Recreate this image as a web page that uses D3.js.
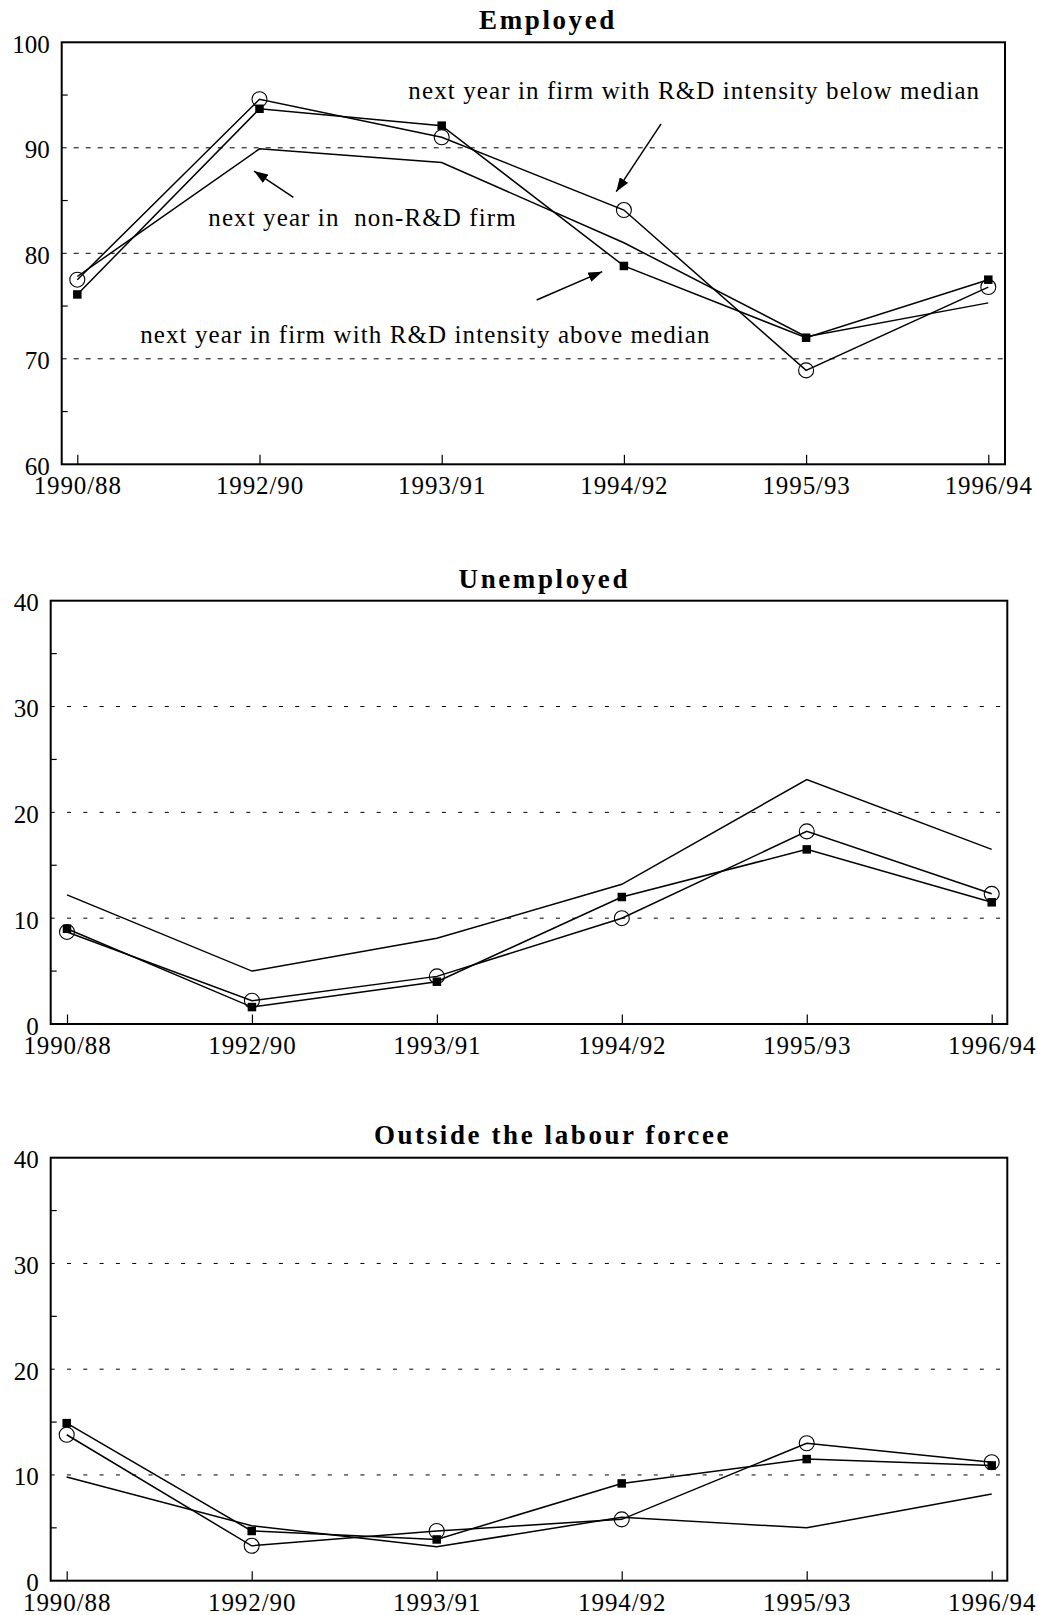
<!DOCTYPE html>
<html>
<head>
<meta charset="utf-8">
<script src="https://cdn.jsdelivr.net/npm/d3@7"></script>
<style>
  html, body { margin: 0; padding: 0; background: #fff; }
  svg { display: block; }
  text { font-family: "Liberation Serif", "Times New Roman", serif; fill: #000; }
</style>
</head>
<body>
<svg id="chart" width="1038" height="1615"></svg>
<script>
// ---------------- data ----------------
const categories = ["1990/88", "1992/90", "1993/91", "1994/92", "1995/93", "1996/94"];

const panelTitles = ["Employed", "Unemployed", "Outside the labour forcee"];

// circles: next year in firm with R&D intensity below median
// squares: next year in firm with R&D intensity above median
// plain:   next year in non-R&D firm
const employedBelow   = [77.5, 94.6, 91.0, 84.1, 68.9, 76.8];
const employedAbove   = [76.1, 93.7, 92.1, 78.8, 72.0, 77.5];
const employedNonRD   = [77.8, 89.9, 88.6, 81.0, 72.1, 75.3];

const unemployedBelow = [8.7, 2.2, 4.5, 10.0, 18.2, 12.3];
const unemployedAbove = [9.0, 1.6, 4.0, 12.0, 16.5, 11.5];
const unemployedNonRD = [12.2, 5.0, 8.1, 13.2, 23.1, 16.5];

const outsideBelow    = [13.8, 3.3, 4.7, 5.8, 13.0, 11.2];
const outsideAbove    = [14.9, 4.7, 3.9, 9.2, 11.5, 10.9];
const outsideNonRD    = [9.8, 5.2, 3.2, 6.0, 5.0, 8.2];

const employedTicks   = [60, 70, 80, 90, 100];
const employedMinor   = [65, 75, 85, 95];
const shareTicks      = [0, 10, 20, 30, 40];
const shareMinor      = [5, 15, 25, 35];

// annotation texts (Employed panel); positions in data units (category index, value)
const annotationTexts = [
  "next year in firm with R&D intensity below median",
  "next year in  non-R&D firm",
  "next year in firm with R&D intensity above median"
];
const annotationIdx   = [1.817, 0.719, 0.345];
const annotationVal   = [94.63, 82.62, 71.53];
const arrowFromIdx    = [3.204, 1.186, 2.521];
const arrowFromVal    = [92.26, 85.31, 75.57];
const arrowToIdx      = [2.958, 0.970, 2.881];
const arrowToVal      = [85.84, 87.80, 78.26];

// ---------------- layout ----------------
const panels = [
  { title: panelTitles[0], below: employedBelow, above: employedAbove, nonrd: employedNonRD,
    domain: [60, 100], ticks: employedTicks, minor: employedMinor,
    left: 61.7, right: 1005, top: 42.3, bottom: 464.3, xFirst: 77.3, xLast: 988.3,
    titleX: 548, titleY: 28.7, dash: "5,7", annotate: true },
  { title: panelTitles[1], below: unemployedBelow, above: unemployedAbove, nonrd: unemployedNonRD,
    domain: [0, 40], ticks: shareTicks, minor: shareMinor,
    left: 50.7, right: 1007.3, top: 600.7, bottom: 1024, xFirst: 67, xLast: 991.7,
    titleX: 544.3, titleY: 588.3, dash: "4,12.3", annotate: false },
  { title: panelTitles[2], below: outsideBelow, above: outsideAbove, nonrd: outsideNonRD,
    domain: [0, 40], ticks: shareTicks, minor: shareMinor,
    left: 50.7, right: 1007.3, top: 1157.7, bottom: 1580.7, xFirst: 66.7, xLast: 991.7,
    titleX: 552.5, titleY: 1143.5, dash: "4,12.3", annotate: false }
];

const svg = d3.select("#chart");
const FONT = 25;

svg.append("defs").append("marker")
  .attr("id", "arrowhead")
  .attr("markerUnits", "userSpaceOnUse")
  .attr("viewBox", "0 0 14 10")
  .attr("refX", 14).attr("refY", 5)
  .attr("markerWidth", 14).attr("markerHeight", 10)
  .attr("orient", "auto")
  .append("path")
  .attr("d", "M0,0 L14,5 L0,10 Z")
  .attr("fill", "#000");

panels.forEach(p => {
  const g = svg.append("g");
  const x = d3.scalePoint().domain(categories).range([p.xFirst, p.xLast]);
  const xi = d3.scaleLinear().domain([0, categories.length - 1]).range([p.xFirst, p.xLast]);
  const y = d3.scaleLinear().domain(p.domain).range([p.bottom, p.top]);

  // gridlines (interior major ticks)
  const inner = p.ticks.filter(t => t > p.domain[0] && t < p.domain[1]);
  g.append("g").selectAll("line").data(inner).join("line")
    .attr("x1", p.left).attr("x2", p.right)
    .attr("y1", d => y(d)).attr("y2", d => y(d))
    .attr("stroke", "#000").attr("stroke-width", 1)
    .attr("stroke-dasharray", p.dash);

  // minor y ticks (inside)
  g.append("g").selectAll("line").data(p.minor).join("line")
    .attr("x1", p.left).attr("x2", p.left + 6)
    .attr("y1", d => y(d)).attr("y2", d => y(d))
    .attr("stroke", "#000").attr("stroke-width", 1.2);

  // y labels
  g.append("g").selectAll("text").data(p.ticks).join("text")
    .attr("x", p.left - 12)
    .attr("y", d => y(d))
    .attr("dy", "0.42em")
    .attr("text-anchor", "end")
    .attr("font-size", FONT)
    .text(d => d);

  // x axis ticks (inside, upward) and labels
  const xAxis = d3.axisBottom(x).tickSize(0).tickPadding(0);
  const xg = g.append("g").attr("transform", `translate(0,${p.bottom})`).call(xAxis);
  xg.select(".domain").remove();
  xg.selectAll(".tick line").remove();
  xg.selectAll(".tick").append("line")
    .attr("y1", 0).attr("y2", -9.5)
    .attr("stroke", "#000").attr("stroke-width", 1.2);
  xg.selectAll(".tick text")
    .attr("y", 30).attr("dy", null)
    .attr("font-size", FONT)
    .attr("letter-spacing", "0.9px")
    .attr("font-family", "\"Liberation Serif\", \"Times New Roman\", serif")
    .attr("fill", "#000");

  // frame
  g.append("rect")
    .attr("x", p.left).attr("y", p.top)
    .attr("width", p.right - p.left).attr("height", p.bottom - p.top)
    .attr("fill", "none").attr("stroke", "#000").attr("stroke-width", 2);

  // title
  g.append("text")
    .attr("x", p.titleX).attr("y", p.titleY)
    .attr("text-anchor", "middle")
    .attr("font-size", 27).attr("font-weight", "bold")
    .attr("letter-spacing", "2.6px")
    .text(p.title);

  const line = d3.line().x((d, i) => x(categories[i])).y(d => y(d));

  [p.nonrd, p.below, p.above].forEach(series => {
    g.append("path").datum(series)
      .attr("d", line)
      .attr("fill", "none").attr("stroke", "#000").attr("stroke-width", 1.5)
      .attr("stroke-linejoin", "miter");
  });

  // circles (below median)
  g.append("g").selectAll("circle").data(p.below).join("circle")
    .attr("cx", (d, i) => x(categories[i]))
    .attr("cy", d => y(d))
    .attr("r", 7.5)
    .attr("fill", "none").attr("stroke", "#000").attr("stroke-width", 1.1);

  // squares (above median)
  const s = 8.5;
  g.append("g").selectAll("rect").data(p.above).join("rect")
    .attr("x", (d, i) => x(categories[i]) - s / 2)
    .attr("y", d => y(d) - s / 2)
    .attr("width", s).attr("height", s)
    .attr("fill", "#000");

  if (p.annotate) {
    g.append("g").selectAll("text").data(annotationTexts).join("text")
      .attr("x", (d, i) => xi(annotationIdx[i]))
      .attr("y", (d, i) => y(annotationVal[i]))
      .attr("font-size", FONT)
      .attr("letter-spacing", "1.1px")
      .attr("xml:space", "preserve")
      .style("white-space", "pre")
      .text(d => d);

    g.append("g").selectAll("line").data(annotationTexts).join("line")
      .attr("x1", (d, i) => xi(arrowFromIdx[i]))
      .attr("y1", (d, i) => y(arrowFromVal[i]))
      .attr("x2", (d, i) => xi(arrowToIdx[i]))
      .attr("y2", (d, i) => y(arrowToVal[i]))
      .attr("stroke", "#000").attr("stroke-width", 1.5)
      .attr("marker-end", "url(#arrowhead)");
  }
});
</script>
</body>
</html>
